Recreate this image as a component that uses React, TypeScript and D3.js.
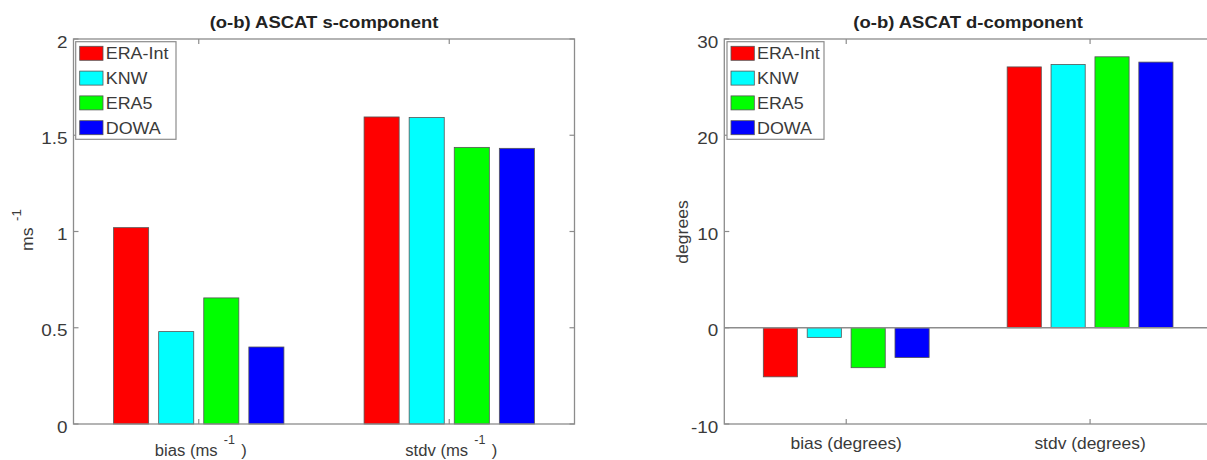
import React from "react";
import * as d3 from "d3";

const seriesNames = ["ERA-Int", "KNW", "ERA5", "DOWA"];
const seriesColors = ["#ff0000", "#00ffff", "#00ff00", "#0000ff"];

const sCategories = ["bias", "stdv"];
const sBias = [1.02, 0.48, 0.655, 0.4];
const sStdv = [1.595, 1.592, 1.437, 1.432];
const sTicks = [0, 0.5, 1, 1.5, 2];
const sTickLabels = ["0", "0.5", "1", "1.5", "2"];

const dCategories = ["bias (degrees)", "stdv (degrees)"];
const dBias = [-5.1, -1.0, -4.15, -3.1];
const dStdv = [27.1, 27.35, 28.15, 27.6];
const dTicks = [-10, 0, 10, 20, 30];
const dTickLabels = ["-10", "0", "10", "20", "30"];

const FONT = "'Liberation Sans', Arial, Helvetica, sans-serif";
const TEXT = "#3a3a3a";
const AXIS = "#8c8c8c";

type TProps = {
  x: number;
  y: number;
  anchor?: "start" | "middle" | "end";
  size?: number;
  weight?: string;
  sx?: number;
  fill?: string;
  rotate?: number;
  children: React.ReactNode;
};

function T({ x, y, anchor = "start", size = 16, weight = "normal", sx = 1.1, fill = TEXT, rotate = 0, children }: TProps) {
  return (
    <g transform={`translate(${x},${y}) rotate(${rotate}) scale(${sx},1)`}>
      <text x={0} y={0} textAnchor={anchor} fontFamily={FONT} fontSize={size} fontWeight={weight} fill={fill}>
        {children}
      </text>
    </g>
  );
}

type PanelProps = {
  x0: number;
  x1: number;
  y0: number;
  y1: number;
  domain: [number, number];
  values: number[][];
  ticks: number[];
  tickLabels: string[];
  title: string;
  legendX: number;
  legendW: number;
  xLabels: React.ReactNode[];
  yLabel: React.ReactNode;
};

function Panel(p: PanelProps) {
  const x = d3.scaleLinear().domain([0.5, 2.5]).range([p.x0, p.x1]);
  const y = d3.scaleLinear().domain(p.domain).range([p.y1, p.y0]);
  const step = 0.18;
  const bw = 0.14;
  const cats = [1, 2];
  const tl = 5;
  const legendTop = 41.7;
  const legendH = 97.6;
  const rowH = 24.8;
  return (
    <g>
      <T x={(p.x0 + p.x1) / 2} y={27.5} anchor="middle" size={16.5} weight="bold" sx={1.12} fill="#222">
        {p.title}
      </T>
      {cats.map((c, ci) =>
        p.values[ci].map((v, si) => {
          const cx = x(c + (si - 1.5) * step);
          const half = (bw / 2) * (x(1) - x(0));
          const yt = y(Math.max(v, 0));
          const yb = y(Math.min(v, 0));
          return (
            <rect
              key={`${ci}-${si}`}
              x={cx - half}
              y={yt}
              width={2 * half}
              height={yb - yt}
              fill={seriesColors[si]}
              stroke="#555"
              strokeWidth={0.8}
            />
          );
        })
      )}
      {p.domain[0] < 0 && (
        <line x1={p.x0} x2={p.x1} y1={y(0)} y2={y(0)} stroke={AXIS} strokeWidth={1.3} />
      )}
      <rect
        x={p.x0}
        y={p.y0}
        width={p.x1 - p.x0}
        height={p.y1 - p.y0}
        fill="none"
        stroke={AXIS}
        strokeWidth={1.3}
      />
      {p.ticks.map((t, i) => (
        <g key={"yt" + i}>
          <line x1={p.x0} x2={p.x0 + tl} y1={y(t)} y2={y(t)} stroke={AXIS} strokeWidth={1.2} />
          <line x1={p.x1} x2={p.x1 - tl} y1={y(t)} y2={y(t)} stroke={AXIS} strokeWidth={1.2} />
          <T x={p.x0 - 6} y={y(t) + 8.5} anchor="end" sx={1.18}>
            {p.tickLabels[i]}
          </T>
        </g>
      ))}
      {cats.map((c, i) => (
        <g key={"xt" + i}>
          <line x1={x(c)} x2={x(c)} y1={p.y1} y2={p.y1 - tl} stroke={AXIS} strokeWidth={1.2} />
          <line x1={x(c)} x2={x(c)} y1={p.y0} y2={p.y0 + tl} stroke={AXIS} strokeWidth={1.2} />
          <g transform={`translate(${x(c)},0)`}>{p.xLabels[i]}</g>
        </g>
      ))}
      {p.yLabel}
      <rect
        x={p.legendX}
        y={legendTop}
        width={p.legendW}
        height={legendH}
        fill="#fff"
        stroke={AXIS}
        strokeWidth={1.2}
      />
      {seriesNames.map((n, i) => {
        const cy = legendTop + 11.6 + i * rowH;
        return (
          <g key={n}>
            <rect
              x={p.legendX + 4}
              y={cy - 7}
              width={23.3}
              height={14}
              fill={seriesColors[i]}
              stroke="#555"
              strokeWidth={0.8}
            />
            <T x={p.legendX + 30} y={cy + 6} sx={1.12}>
              {n}
            </T>
          </g>
        );
      })}
    </g>
  );
}

function SupLabel({ pre, sup, post, y }: { pre: string; sup: string; post: string; y: number }) {
  return (
    <T x={2} y={y} anchor="middle" sx={1.04}>
      <tspan>{pre}</tspan>
      <tspan dx={6} dy={-12} fontSize={12}>
        {sup}
      </tspan>
      <tspan dx={6} dy={12}>
        {post}
      </tspan>
    </T>
  );
}

export default function App() {
  const sLabels = sCategories.map((c) => (
    <SupLabel key={c} pre={`${c} (ms`} sup="-1" post=")" y={456} />
  ));
  const dLabels = dCategories.map((c) => (
    <T key={c} x={0} y={448.5} anchor="middle" sx={1.09}>
      {c}
    </T>
  ));
  const sYLabel = (
    <T x={33} y={251} rotate={-90} sx={1.1}>
      <tspan>ms</tspan>
      <tspan dx={6} dy={-12} fontSize={12}>
        -1
      </tspan>
    </T>
  );
  const dYLabel = (
    <T x={688} y={232} rotate={-90} anchor="middle" sx={1.1}>
      degrees
    </T>
  );
  return (
    <svg
      width={1207}
      height={460}
      style={{ position: "absolute", left: 0, top: 0, background: "#fff" }}
    >
      <rect x={0} y={0} width={1207} height={460} fill="#fff" />
      <Panel
        x0={73.5}
        x1={574.5}
        y0={39}
        y1={424}
        domain={[0, 2]}
        values={[sBias, sStdv]}
        ticks={sTicks}
        tickLabels={sTickLabels}
        title="(o-b) ASCAT s-component"
        legendX={75.7}
        legendW={100.3}
        xLabels={sLabels}
        yLabel={sYLabel}
      />
      <Panel
        x0={724.3}
        x1={1212}
        y0={39}
        y1={424}
        domain={[-10, 30]}
        values={[dBias, dStdv]}
        ticks={dTicks}
        tickLabels={dTickLabels}
        title="(o-b) ASCAT d-component"
        legendX={727}
        legendW={97}
        xLabels={dLabels}
        yLabel={dYLabel}
      />
    </svg>
  );
}
